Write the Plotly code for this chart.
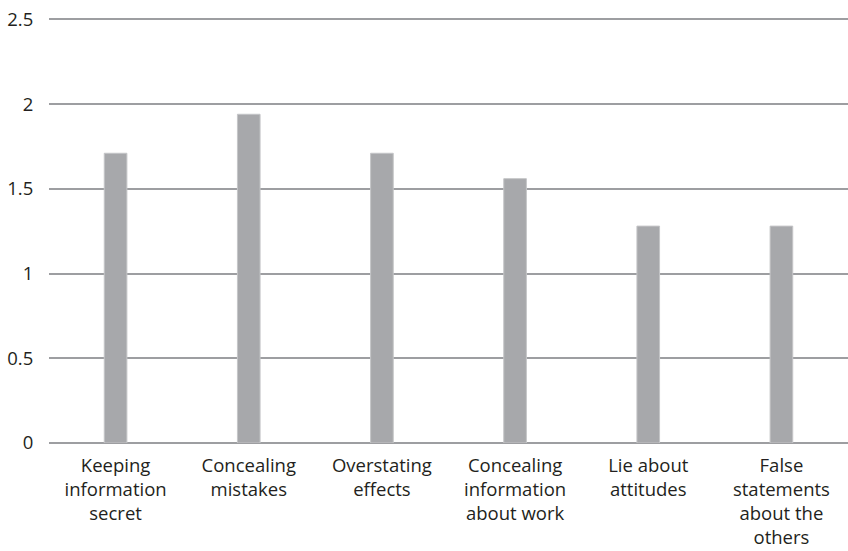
import plotly.graph_objects as go

categories = ["Keeping<br>information<br>secret", "Concealing<br>mistakes", "Overstating<br>effects",
              "Concealing<br>information<br>about work", "Lie about<br>attitudes",
              "False<br>statements<br>about the<br>others"]
values = [1.71, 1.94, 1.71, 1.56, 1.28, 1.28]
y_ticks = [0, 0.5, 1, 1.5, 2, 2.5]
y_tick_labels = ["0", "0.5", "1", "1.5", "2", "2.5"]

fig = go.Figure(go.Bar(
    x=categories, y=values, width=0.17,
    marker=dict(color="#a7a8ab", line=dict(color="#c4c5c7", width=1)),
))
font = dict(family="Open Sans, Lato, sans-serif", size=18.5, color="#231f20")
fig.update_layout(
    width=848, height=551, margin=dict(l=49, r=0, t=16, b=108),
    paper_bgcolor="white", plot_bgcolor="white", showlegend=False, font=font,
    bargap=0.83,
)
fig.update_yaxes(range=[0, 2.52], tickvals=y_ticks, ticktext=y_tick_labels,
                 showgrid=True, gridcolor="#9d9ea1", gridwidth=1.5,
                 zeroline=True, zerolinecolor="#9d9ea1", zerolinewidth=1.5,
                 ticks="outside", ticklen=11, tickcolor="rgba(0,0,0,0)", showline=False,
                 automargin=False)
fig.update_xaxes(showgrid=False, ticks="outside", ticklen=6, tickcolor="rgba(0,0,0,0)",
                 showline=False, tickangle=0, automargin=False)
fig.write_html("out.html")
